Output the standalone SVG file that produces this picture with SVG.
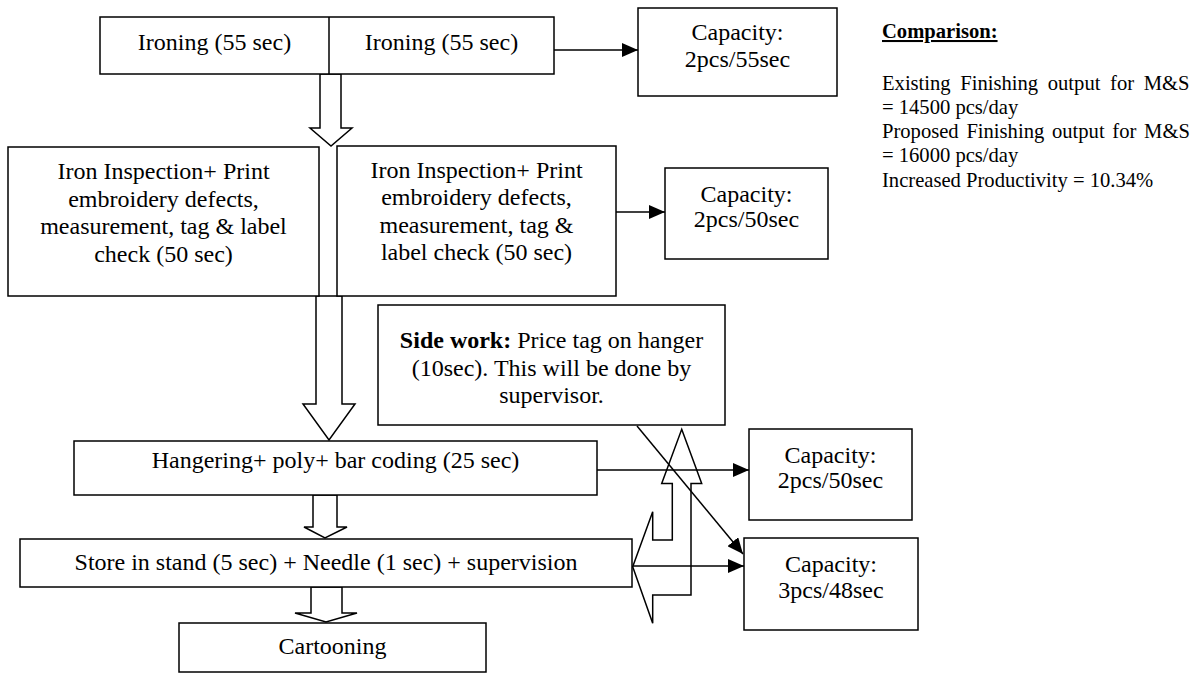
<svg xmlns="http://www.w3.org/2000/svg" width="1201" height="673" viewBox="0 0 1201 673">
<defs>
<style>
.box{fill:#fff;stroke:#000;stroke-width:1.5}
.t{font-family:"Liberation Serif","Times New Roman",serif;font-size:24px;fill:#000;text-anchor:middle}
.c{font-family:"Liberation Serif","Times New Roman",serif;font-size:20.6px;fill:#000}
.ln{fill:none;stroke:#000;stroke-width:1.5}
.blk{fill:#fff;stroke:#000;stroke-width:1.5;stroke-linejoin:miter}
</style>
<marker id="ah" markerWidth="16" markerHeight="14" refX="16" refY="7" orient="auto" markerUnits="userSpaceOnUse">
<path d="M0,0 L16,7 L0,14 Z" fill="#000"/>
</marker>
</defs>
<rect width="1201" height="673" fill="#fff"/>

<g id="connectors">
<line class="ln" x1="554" y1="50" x2="638" y2="50" marker-end="url(#ah)"/>
<line class="ln" x1="616" y1="212" x2="665" y2="212" marker-end="url(#ah)"/>
<line class="ln" x1="597" y1="470" x2="749" y2="470" marker-end="url(#ah)"/>
<line class="ln" x1="633" y1="566" x2="744" y2="566" marker-end="url(#ah)"/>
<line class="ln" x1="637" y1="426" x2="743" y2="554" marker-end="url(#ah)"/>
<polygon class="blk" points="320,74 341,74 341,128 352,128 331,146 310,128 320,128"/>
<polygon class="blk" points="316,296 342,296 342,404 355,404 329,440 303,404 316,404"/>
<polygon class="blk" points="313,495 337,495 337,527 347,527 325,538 304,527 313,527"/>
<polygon class="blk" points="311,587 342,587 342,613 357,613 326,622 295,613 311,613"/>
<polygon fill="none" stroke="#000" stroke-width="1.5" points="681.7,429.3 701.7,483.5 691,483.5 691,595 652.7,595 652.7,623.3 632.7,566.7 652.7,511.7 652.7,540 672.3,540 672.3,483.5 661.7,483.5"/>
</g>

<g id="ironing">
<rect class="box" x="100" y="17" width="454" height="57"/>
<line class="ln" x1="329" y1="17" x2="329" y2="74"/>
<text class="t" x="214.5" y="50">Ironing (55 sec)</text>
<text class="t" x="441.5" y="50">Ironing (55 sec)</text>
</g>

<g id="cap1">
<rect class="box" x="638" y="8" width="199" height="88"/>
<text class="t" x="737.5" y="40">Capacity:</text>
<text class="t" x="737.5" y="67">2pcs/55sec</text>
</g>

<g id="inspection-left">
<rect class="box" x="8" y="147" width="311" height="149"/>
<text class="t" x="163.5" y="179">Iron Inspection+ Print</text>
<text class="t" x="163.5" y="207">embroidery defects,</text>
<text class="t" x="163.5" y="234">measurement, tag &amp; label</text>
<text class="t" x="163.5" y="262">check (50 sec)</text>
</g>

<g id="inspection-right">
<rect class="box" x="337" y="146" width="279" height="150"/>
<text class="t" x="476.5" y="178">Iron Inspection+ Print</text>
<text class="t" x="476.5" y="205">embroidery defects,</text>
<text class="t" x="476.5" y="233">measurement, tag &amp;</text>
<text class="t" x="476.5" y="260">label check (50 sec)</text>
</g>

<g id="cap2">
<rect class="box" x="665" y="168" width="163" height="91"/>
<text class="t" x="746.5" y="202">Capacity:</text>
<text class="t" x="746.5" y="227">2pcs/50sec</text>
</g>

<g id="sidework">
<rect class="box" x="378" y="305" width="347" height="120"/>
<text class="t" x="551.5" y="348"><tspan font-weight="bold">Side work:</tspan> Price tag on hanger</text>
<text class="t" x="551.5" y="376">(10sec). This will be done by</text>
<text class="t" x="551.5" y="403">supervisor.</text>
</g>

<g id="hangering">
<rect class="box" x="74" y="441" width="523" height="54"/>
<text class="t" x="335.5" y="468">Hangering+ poly+ bar coding (25 sec)</text>
</g>

<g id="cap3">
<rect class="box" x="749" y="429" width="163" height="91"/>
<text class="t" x="830.5" y="463">Capacity:</text>
<text class="t" x="830.5" y="488">2pcs/50sec</text>
</g>

<g id="store">
<rect class="box" x="20" y="539" width="612" height="48"/>
<text class="t" x="326" y="570">Store in stand (5 sec) + Needle (1 sec) + supervision</text>
</g>

<g id="cap4">
<rect class="box" x="744" y="538" width="174" height="92"/>
<text class="t" x="831" y="572">Capacity:</text>
<text class="t" x="831" y="598">3pcs/48sec</text>
</g>

<g id="cartooning">
<rect class="box" x="179" y="623" width="307" height="49"/>
<text class="t" x="332.5" y="654">Cartooning</text>
</g>

<g id="comparison">
<text class="c" x="882" y="38" font-weight="bold" text-decoration="underline">Comparison:</text>
<text class="c" x="882" y="90" word-spacing="4.5">Existing Finishing output for M&amp;S</text>
<text class="c" x="882" y="114">= 14500 pcs/day</text>
<text class="c" x="882" y="138" word-spacing="2.6">Proposed Finishing output for M&amp;S</text>
<text class="c" x="882" y="162">= 16000 pcs/day</text>
<text class="c" x="882" y="187">Increased Productivity = 10.34%</text>
</g>
</svg>
